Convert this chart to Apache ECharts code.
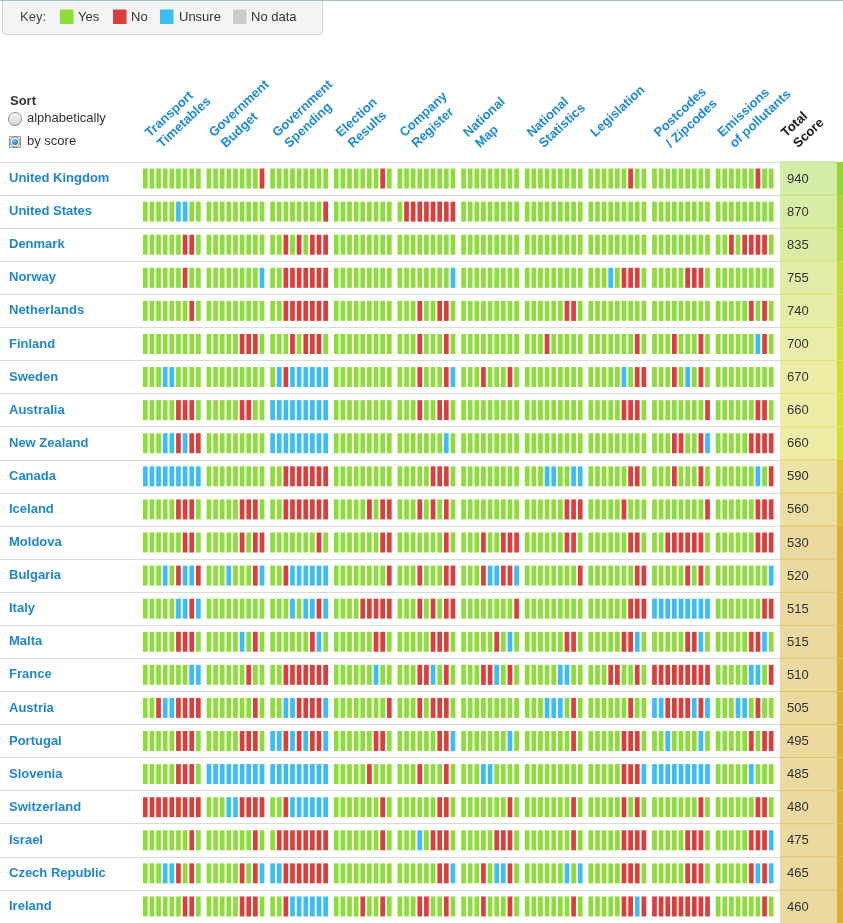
<!DOCTYPE html>
<html><head><meta charset="utf-8">
<script src="https://cdn.jsdelivr.net/npm/echarts@6.0.0/dist/echarts.min.js"></script>
<style>html,body{margin:0;padding:0;background:#fff;}#chart{width:843px;height:923px;}</style>
</head><body><div id="chart"></div>
<script>
// ---------------- DATA ----------------
const countries = ['United Kingdom','United States','Denmark','Norway','Netherlands','Finland','Sweden','Australia','New Zealand','Canada','Iceland','Moldova','Bulgaria','Italy','Malta','France','Austria','Portugal','Slovenia','Switzerland','Israel','Czech Republic','Ireland'];
const scores = [940,870,835,755,740,700,670,660,660,590,560,530,520,515,515,510,505,495,485,480,475,465,460];
const datasets = [['Transport','Timetables'],['Government','Budget'],['Government','Spending'],['Election','Results'],['Company','Register'],['National','Map'],['National','Statistics'],['Legislation'],['Postcodes','/ Zipcodes'],['Emissions','of pollutants']];
const scoreHeader = ['Total','Score'];
const keyLabels = ['Yes','No','Unsure','No data'];
const sortOptions = ['alphabetically','by score'];
// g = Yes, r = No, b = Unsure, n = No data ; 9 questions per dataset
const answers = [
 'ggggggggg ggggggggr ggggggggg gggggggrg ggggggggg ggggggggg ggggggggg ggggggrgg ggggggggg ggggggrgg',
 'gggggbbgg ggggggggg ggggggggr ggggggggg grrrrrrrr ggggggggg ggggggggg ggggggggg ggggggggg ggggggggg',
 'ggggggrrg ggggggggg ggrgrgrrr ggggggggg ggggggggg ggggggggg ggggggggg ggggggggg ggggggggg ggrgrrrrg',
 'ggggggrgg ggggggggb ggrrrrrrr ggggggggg ggggggggb ggggggggg ggggggggg gggbgrrrg gggggrrrg ggggggggg',
 'gggggggrg ggggggggg ggrrrrrrr ggggggggg gggrggrrg ggggggggg ggggggrrg ggggggggg ggggggggg gggggrgrg',
 'ggggggggg gggggrrrg gggrgrrrg ggggggggg gggrgggrg ggggggggg gggrggggg gggggggrg gggrgggrg ggggggbrg',
 'gggbbgggg ggggggggg gbrbbbbbb ggggggggg gggrgggrb gggrgggrg ggggggggg gggggbgrr gggrgbgrg ggggggggg',
 'gggggrrrg gggggrrgg bbbbbbbbb ggggggggg gggrggrrg ggggggggg ggggggggg gggggrrrg ggggggggr ggggggrrg',
 'gggbbrbrr ggggggggg bbbbbbbbb ggggggggg gggggggbg ggggggggg ggggggggg ggggggggg gggrrggrb gggggrrrr',
 'bbbbbbbbb ggggggggg ggrrrrrrr ggggggggg gggggrrrg ggggggggg gggbbggbb ggggggrrg gggrgggrg ggggggbgr',
 'gggggrrrg gggggrrrg ggrrrrrrr gggggrgrr gggrgrgrg ggggggggg ggggggrrr gggggrggg ggggggggr ggggggrrr',
 'ggggggrrg gggggrgrr gggggggrg gggggggrr gggggggrg gggrggrrr ggggggrrg ggggggrrg ggrrrrrrg ggggggrrr',
 'gggbgrbbr gggbgggrb ggrbbbbbb ggggggggr gggrgggrr gggrbbrrb ggggggggr gggggggrr gggggrgrg ggggggggb',
 'gggggbbrb ggggggggg gggbgbbrb ggggrrrrr gggrgrgrr ggggggggr ggggggggg ggggggrrr bbbbbbbbb gggggggrr',
 'gggggrrrg gggggbgrg ggggggrbg ggggggrrg gggggrrrg gggggrgbg ggggggrrg gggggrrbg gggggrrbg gggggrrbg',
 'gggggggbb ggggggrgg ggrrrrrrr ggggggbgg gggrrbgrg gggrrbgrg gggggbbgg gggrrggrg rrrrrrrrr gggggbbgr',
 'ggrbbrrrr gggggggrg ggbbrrrrb ggggggggr gggrgrrrg ggggggggg gggbbbgrg ggggggrgg bbrrrrbrb gggbbgrgg',
 'gggggrrrg gggggrrrg bbrbrbrrb ggggggrrg ggggggrrb gggggggbg gggggggrg gggggrrrg ggbggggbg gggggrgrr',
 'gggggrrrg bbbbbbbbb bbbbbbbbb gggggrggg gggrgggrg gggbbgggg ggggggggg gggggrrrb bbbbbbbbb gggggbggg',
 'rrrrrrrrr gggbbrrrr ggrbbbbbb gggggggrg ggggggrrg gggggggrg gggggggrg gggggrgrg gggggggrg ggggggrrg',
 'gggggggrg gggggggrg grrrrrrrr gggggggrg gggbgrrrg gggggrrrg gggggggrg gggggrrrr gggggrrrg gggggrrrb',
 'gggbbrgrg gggggrgrb bbrrrrrrr ggggggggg ggggggrrb gggrgbbrg ggggggbgb gggggrrrg gggggrrrg gggggrbrb',
 'ggggggrrg gggggrrrg ggrbbbbbb ggggrggrg gggrrggrg gggrgggrg gggggggrg gggggrrbr rrrrrrrrr gggggggrg'
];

// ---------------- STYLE / LAYOUT ----------------
const FONT = '"Liberation Sans", Arial, Helvetica, sans-serif';
const COLORS = {g:'#8ddd3a', r:'#dc3f3b', b:'#3cbdf6', n:'#cbcbcb'};
const CODE = {g:0, r:1, b:2, n:3};
const CODE_COLORS = [COLORS.g, COLORS.r, COLORS.b, COLORS.n];
const GROUP_STEP = 9.6;          // slot units between dataset groups
const UNIT = 6.63;               // px per slot
const X_MIN = -145.3 / UNIT;
const X_MAX = X_MIN + 780 / UNIT;
const GRID_TOP = 162, ROW_H = 33.1;
const GRID_H = ROW_H * countries.length;

const barData = [];
answers.forEach((row, r) => {
  row.split(' ').forEach((grp, g) => {
    grp.split('').forEach((ch, i) => {
      barData.push([g * GROUP_STEP + i, r, CODE[ch]]);
    });
  });
});
const scoreData = scores.map((s, r) => [0, r, s]);

const stops = [
  {s:940, bg:[211,237,168], st:[150,212,58]},
  {s:760, bg:[226,236,166], st:[196,218,50]},
  {s:660, bg:[238,237,168], st:[216,220,46]},
  {s:590, bg:[237,227,166], st:[221,195,52]},
  {s:530, bg:[236,217,160], st:[217,176,54]},
  {s:0,   bg:[236,217,160], st:[217,176,54]}
];
function mix(a, b, t) { return a.map((v, k) => Math.round(v + (b[k] - v) * t)); }
function rgb(c) { return 'rgb(' + c.join(',') + ')'; }
function scoreColors(s) {
  for (let k = 0; k < stops.length - 1; k++) {
    const A = stops[k], B = stops[k + 1];
    if (s <= A.s && s >= B.s) {
      const t = (A.s - s) / (A.s - B.s || 1);
      const bg = mix(A.bg, B.bg, t), st = mix(A.st, B.st, t);
      return {bg: rgb(bg), st: rgb(st), line: rgb(mix(bg, st, 0.55))};
    }
  }
  const L = stops[stops.length - 1];
  return {bg: rgb(L.bg), st: rgb(L.st), line: rgb(mix(L.bg, L.st, 0.55))};
}

// ---------------- GRAPHICS (key, sort, headers) ----------------
const graphic = [];
graphic.push({type:'rect', shape:{x:0, y:0, width:843, height:1}, style:{fill:'#a9bcd6'}, z:10});
graphic.push({type:'rect', shape:{x:2.5, y:-4, width:320, height:38.5, r:3}, style:{fill:'#f4f4f4', stroke:'#d6d6d6', lineWidth:1}});
graphic.push({type:'text', style:{text:'Key:', x:20, y:17, verticalAlign:'middle', font:'13px ' + FONT, fill:'#444'}});
const keyPos = [[60,78],[113,131],[160,179],[233,251]];
const keyCols = [COLORS.g, COLORS.r, COLORS.b, COLORS.n];
keyLabels.forEach((lab, k) => {
  graphic.push({type:'rect', shape:{x:keyPos[k][0], y:9.5, width:13.5, height:14.5}, style:{fill:keyCols[k]}});
  graphic.push({type:'text', style:{text:lab, x:keyPos[k][1], y:17, verticalAlign:'middle', font:'13px ' + FONT, fill:'#333'}});
});
// Sort
graphic.push({type:'text', style:{text:'Sort', x:10, y:101, verticalAlign:'middle', font:'bold 13px ' + FONT, fill:'#333'}});
graphic.push({type:'circle', shape:{cx:15, cy:119, r:6.5}, style:{fill:new echarts.graphic.LinearGradient(0,0,0,1,[{offset:0,color:'#ffffff'},{offset:1,color:'#cfcfcf'}]), stroke:'#8f8f8f', lineWidth:1}});
graphic.push({type:'text', style:{text:sortOptions[0], x:27, y:118.5, verticalAlign:'middle', font:'13px ' + FONT, fill:'#333'}});
graphic.push({type:'rect', shape:{x:9.5, y:136.5, width:11, height:11}, style:{fill:'none', stroke:'#444', lineWidth:1, lineDash:[1,1]}});
graphic.push({type:'circle', shape:{cx:15, cy:142, r:5}, style:{fill:'#f4f8fb', stroke:'#6f7f8f', lineWidth:1}});
graphic.push({type:'circle', shape:{cx:15, cy:142, r:3}, style:{fill:new echarts.graphic.RadialGradient(0.4,0.35,0.8,[{offset:0,color:'#7cc4f2'},{offset:1,color:'#0f5c9e'}])}});
graphic.push({type:'text', style:{text:sortOptions[1], x:27, y:141.5, verticalAlign:'middle', font:'13px ' + FONT, fill:'#333'}});
// Column headers
const ROT = 43 * Math.PI / 180;
function header(lines, x, color) {
  const children = lines.map((t, k) => ({
    type:'text', x: k * 1.5, y: 3 + k * 16,
    style:{text:t, align:'left', verticalAlign:'bottom', font:'bold 13px ' + FONT, fill:color}
  }));
  graphic.push({type:'group', x:x, y:137.5, rotation:ROT, children:children});
}
datasets.forEach((d, i) => header(d, 150 + i * 63.6, '#1b8bd6'));
header(scoreHeader, 786, '#1a1a1a');

// ---------------- CHART ----------------
const chart = echarts.init(document.getElementById('chart'), null, {renderer:'canvas'});
chart.setOption({
  animation:false,
  backgroundColor:'#ffffff',
  grid:[
    {left:0, top:GRID_TOP, width:780, height:GRID_H},
    {left:780, top:GRID_TOP, width:63, height:GRID_H}
  ],
  xAxis:[
    {type:'value', gridIndex:0, min:X_MIN, max:X_MAX, show:false},
    {type:'value', gridIndex:1, min:0, max:1, show:false}
  ],
  yAxis:[
    {type:'category', gridIndex:0, data:countries, inverse:true,
     axisLine:{show:false}, axisTick:{show:false},
     axisLabel:{inside:true, margin:9, color:'#1f86cc', fontWeight:'bold', fontSize:13, fontFamily:FONT, padding:[7,0,0,0]},
     splitLine:{show:true, lineStyle:{color:'#dadada', width:1}}},
    {type:'category', gridIndex:1, data:countries, inverse:true, show:false}
  ],
  series:[
    {type:'custom', xAxisIndex:0, yAxisIndex:0, data:barData, encode:{x:0, y:1},
     renderItem:function(params, api){
       const c = api.coord([api.value(0), api.value(1)]);
       const w = api.size([1, 0])[0] * 0.71;
       const h = 20;
       return {type:'rect', shape:{x:c[0] - w / 2, y:c[1] - h / 2, width:w, height:h},
               style:{fill:CODE_COLORS[api.value(2)]}};
     }},
    {type:'custom', xAxisIndex:1, yAxisIndex:1, data:scoreData, encode:{x:0, y:1},
     renderItem:function(params, api){
       const c = api.coord([0, api.value(1)]);
       const h = api.size([0, 1])[1];
       const x0 = params.coordSys.x;
       const s = api.value(2);
       const col = scoreColors(s);
       const top = c[1] - h / 2;
       return {type:'group', children:[
         {type:'rect', shape:{x:x0, y:top, width:57, height:h}, style:{fill:col.bg}},
         {type:'rect', shape:{x:x0 + 57, y:top, width:6, height:h}, style:{fill:col.st}},
         {type:'rect', shape:{x:x0, y:top - 0.5, width:57, height:1}, style:{fill:col.line}},
         {type:'text', style:{text:String(s), x:x0 + 7, y:c[1] + 0.5, align:'left', verticalAlign:'middle', font:'13px ' + FONT, fill:'#333'}}
       ]};
     }}
  ],
  graphic:graphic
});
</script>
</body></html>
